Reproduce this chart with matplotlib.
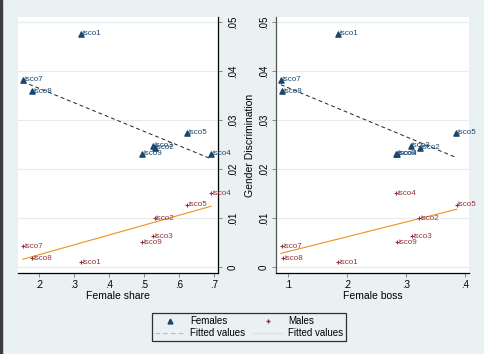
import matplotlib.pyplot as plt
import numpy as np
from matplotlib.lines import Line2D
from matplotlib.patches import Rectangle

plt.rcParams['font.family'] = ['Liberation Sans', 'DejaVu Sans']

labels = ['isco1', 'isco2', 'isco3', 'isco4', 'isco5', 'isco7', 'isco8', 'isco9']
fem_share = [0.320, 0.530, 0.526, 0.691, 0.623, 0.154, 0.180, 0.494]
fem_boss = [0.185, 0.324, 0.308, 0.285, 0.385, 0.088, 0.090, 0.283]
male_boss = [0.185, 0.322, 0.310, 0.283, 0.386, 0.090, 0.092, 0.285]
disc_female = [0.0476, 0.0243, 0.0247, 0.0231, 0.0274, 0.0382, 0.0359, 0.0231]
disc_male = [0.0010, 0.0100, 0.0063, 0.0151, 0.0127, 0.0043, 0.0018, 0.0051]

# fitted values (endpoints)
fit_share_x = [0.154, 0.691]
fit_share_f = [0.0378, 0.0221]
fit_share_m = [0.0016, 0.0124]
fit_boss_x = [0.088, 0.386]
fit_boss_f = [0.0372, 0.0223]
fit_boss_m = [0.0028, 0.0118]

bg = '#eaf1f3'
navy = '#1a476f'
maroon = '#90353b'
orange = '#f0901c'

fig = plt.figure(figsize=(4.85, 3.54), dpi=100, facecolor=bg)
fig.patches.append(Rectangle((0, 0), 0.005, 1, transform=fig.transFigure, color='#3c3c3c'))

ax1 = fig.add_axes([0.0371, 0.2288, 0.4124, 0.7232])
ax2 = fig.add_axes([0.569, 0.2288, 0.398, 0.7232])


def panel(ax, xf, xm, fx, ff, fm, xlim, xlabel):
    ax.set_facecolor('white')
    ax.scatter(xf, disc_female, marker='^', s=14, color=navy, zorder=3)
    ax.scatter(xm, disc_male, marker='+', s=8, color=maroon, linewidths=0.8, zorder=3)
    off = 0.006 * (xlim[1] - xlim[0])
    for i in range(len(labels)):
        ax.text(xf[i] + off, disc_female[i], labels[i],
                fontsize=5.8, color=navy, va='center', ha='left')
        ax.text(xm[i] + off, disc_male[i], labels[i],
                fontsize=5.8, color=maroon, va='center', ha='left')
    ax.plot(fx, ff, color='#222222', lw=0.7, dashes=(4, 3))
    ax.plot(fx, fm, color=orange, lw=0.8)
    ax.set_xlim(xlim)
    ax.set_ylim(-0.0012, 0.051)
    ax.set_yticks([0, 0.01, 0.02, 0.03, 0.04, 0.05])
    ax.set_yticklabels(['0', '.01', '.02', '.03', '.04', '.05'], rotation=90, va='center')
    ax.grid(axis='y', color='#e6ecee', lw=0.8)
    ax.set_axisbelow(True)
    ax.set_xlabel(xlabel, fontsize=7.5, labelpad=1)
    ax.tick_params(labelsize=7, length=3, width=0.6, color='#777777', pad=2)
    ax.spines['top'].set_visible(False)
    for s in ax.spines.values():
        s.set_linewidth(0.9)


panel(ax1, fem_share, fem_share, fit_share_x, fit_share_f, fit_share_m,
      (0.14, 0.7114), 'Female share')
ax1.spines['left'].set_visible(False)
ax1.yaxis.tick_right()
ax1.yaxis.set_label_position('right')
ax1.tick_params(axis='y', pad=4)
ax1.set_ylabel('Gender Discrimination', fontsize=7.5, labelpad=5)
ax1.spines['right'].set_color('black')
ax1.set_xticks([0.2, 0.3, 0.4, 0.5, 0.6, 0.7])
ax1.set_xticklabels(['.2', '.3', '.4', '.5', '.6', '.7'])

panel(ax2, fem_boss, male_boss, fit_boss_x, fit_boss_f, fit_boss_m,
      (0.0797, 0.4068), 'Female boss')
ax2.spines['right'].set_visible(False)
ax2.spines['left'].set_color('#555555')
ax2.set_xticks([0.1, 0.2, 0.3, 0.4])
ax2.set_xticklabels(['.1', '.2', '.3', '.4'])

handles = [
    Line2D([], [], marker='^', color=navy, ls='none', markersize=3.5),
    Line2D([], [], color='#bbbbbb', lw=0.8, dashes=(4, 3)),
    Line2D([], [], marker='+', color=maroon, ls='none', markersize=3),
    Line2D([], [], color='#f7d9bd', lw=0.9),
]
leg = fig.legend(handles, ['Females', 'Fitted values', 'Males', 'Fitted values'],
                 ncol=2, loc='center', bbox_to_anchor=(0.514, 0.076), fontsize=7,
                 frameon=True, fancybox=False, edgecolor='black', facecolor=bg,
                 borderpad=0.3, labelspacing=0.2, handlelength=3, columnspacing=0.8,
                 handletextpad=0.6, borderaxespad=0)
leg.get_frame().set_linewidth(0.9)

fig.savefig('out.png', dpi=100, facecolor=bg)
